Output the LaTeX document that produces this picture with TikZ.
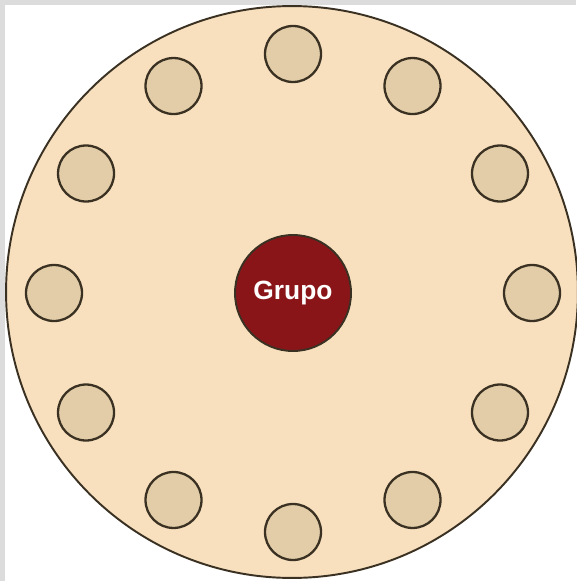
\documentclass[tikz,border=0pt]{standalone}
\usepackage{fontspec}
\setmainfont{Liberation Sans}
\usepackage{xcolor}
\usetikzlibrary{calc}
\definecolor{mesacolor}{HTML}{F8E0BF}
\definecolor{asientocolor}{HTML}{E2CDA8}
\definecolor{grupocolor}{HTML}{8A1519}
\definecolor{bordecolor}{HTML}{3A3122}
\definecolor{marcocolor}{HTML}{DCDCDC}

\begin{document}
\begin{tikzpicture}[x=0.02cm, y=-0.02cm,
    mesa/.style={circle, draw=bordecolor, line width=1.1pt, fill=mesacolor, minimum size=11.44cm, inner sep=0pt},
    asiento/.style={circle, draw=bordecolor, line width=1.3pt, fill=asientocolor, minimum size=1.12cm, inner sep=0pt},
    grupo/.style={circle, draw=bordecolor, line width=1.1pt, fill=grupocolor, minimum size=2.32cm, inner sep=0pt,
        text=white, font=\fontsize{15}{18}\selectfont\bfseries}]
    \useasboundingbox (0,0) rectangle (576,581);
    % background frame
    \fill[white] (0,0) rectangle (576,581);
    \fill[marcocolor] (0,0) rectangle (576,5);
    \fill[marcocolor] (0,0) rectangle (5,581);

    % table
    \node[mesa] (mesa) at (292,292) {};

    % seats around the table
    \foreach \i in {0,...,11}
        \node[asiento] (asiento\i) at ($(293,293)+(30*\i:239)$) {};

    % centre
    \node[grupo] (grupo) at (293,293) {Grupo};
\end{tikzpicture}
\end{document}
